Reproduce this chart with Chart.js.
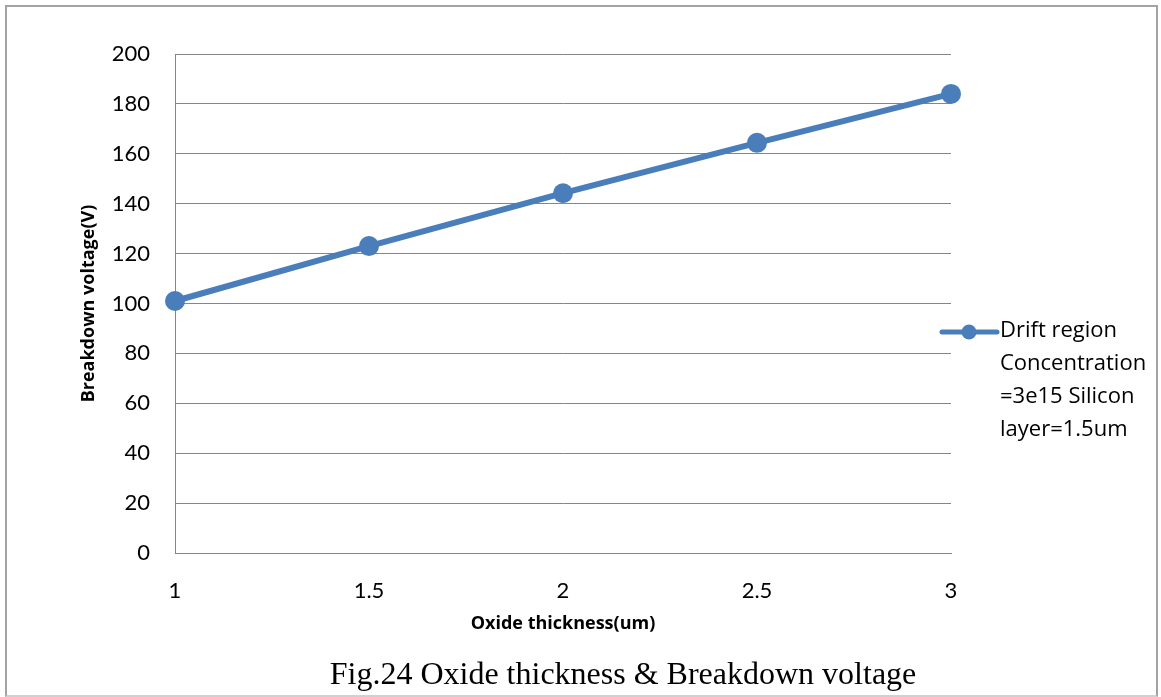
<!DOCTYPE html>
<html>
<head>
<meta charset="utf-8">
<script src="https://cdn.jsdelivr.net/npm/chart.js@4.4.1/dist/chart.umd.min.js"></script>
<style>
    html, body { margin: 0; padding: 0; background: #fff; }
    #wrap { position: relative; width: 1161px; height: 697px; overflow: hidden; }
    #frame {
        position: absolute; left: 5px; top: 5px; width: 1149px; height: 688px;
        border: 2px solid #a3a3a3; border-bottom-color: #d0d0d0;
    }
    #chart { position: absolute; left: 0; top: 0; }
    #caption {
        position: absolute; left: 0; width: 1246px; top: 655px;
        text-align: center; font-family: "Liberation Serif", "Times New Roman", serif;
        font-size: 32px; color: #000; line-height: 36px;
    }
</style>
</head>
<body>
<div id="wrap">
    <div id="frame"></div>
    <canvas id="chart" width="1161" height="697"></canvas>
    <div id="caption">Fig.24 Oxide thickness &amp; Breakdown voltage</div>
</div>
<script>
const thickness = [1, 1.5, 2, 2.5, 3];
const breakdown = [101, 123, 144.2, 164.4, 184];
const legendLines = ['Drift region', 'Concentration', '=3e15 Silicon', 'layer=1.5um'];
const xTitle = 'Oxide thickness(um)';
const yTitle = 'Breakdown voltage(V)';

const blue = '#4a7ebb';
const gridGray = '#868686';
const tickFont = { family: 'Lato, "Open Sans", sans-serif', size: 22 };
const legendFont = '22px "Open Sans", sans-serif';
const titleFont = { family: '"Open Sans", sans-serif', size: 18, weight: 'bold' };

// legend with wrapped text, drawn beside the plot
const sideLegend = {
    id: 'sideLegend',
    afterDraw(chart) {
        const { ctx, chartArea } = chart;
        const x0 = chartArea.right - 9;
        const y0 = 332;
        ctx.save();
        ctx.strokeStyle = blue;
        ctx.lineWidth = 5;
        ctx.lineCap = 'round';
        ctx.beginPath();
        ctx.moveTo(x0, y0);
        ctx.lineTo(x0 + 55, y0);
        ctx.stroke();
        ctx.fillStyle = blue;
        ctx.beginPath();
        ctx.arc(x0 + 27, y0, 7.5, 0, Math.PI * 2);
        ctx.fill();
        ctx.fillStyle = '#000';
        ctx.font = legendFont;
        ctx.textBaseline = 'middle';
        ctx.textAlign = 'left';
        legendLines.forEach((line, i) => {
            ctx.fillText(line, x0 + 58, y0 - 1 + i * 33);
        });
        ctx.restore();
    }
};

new Chart(document.getElementById('chart'), {
    type: 'line',
    data: {
        datasets: [{
            label: legendLines.join(' '),
            data: thickness.map((t, i) => ({ x: t, y: breakdown[i] })),
            borderColor: blue,
            backgroundColor: blue,
            borderWidth: 6,
            pointRadius: 10,
            pointHoverRadius: 10,
            pointBackgroundColor: blue,
            pointBorderWidth: 0,
            tension: 0,
            clip: false
        }]
    },
    options: {
        responsive: false,
        animation: false,
        layout: { padding: { top: 54, right: 210, left: 0, bottom: 0 } },
        plugins: {
            legend: { display: false },
            tooltip: { enabled: false }
        },
        scales: {
            x: {
                type: 'linear',
                min: 1,
                max: 3,
                afterFit(scale) { scale.height = 144; },
                ticks: {
                    stepSize: 0.5, color: '#000', font: tickFont, padding: 17, maxRotation: 0,
                    callback: (v) => String(v)
                },
                grid: { display: false },
                border: { display: true, color: gridGray, width: 1 },
                title: {
                    display: true,
                    text: xTitle,
                    color: '#000',
                    font: titleFont,
                    padding: { top: 0, bottom: 62 }
                }
            },
            y: {
                min: 0,
                max: 200,
                afterFit(scale) { scale.width = 175; },
                ticks: { stepSize: 20, color: '#000', font: tickFont, padding: 25 },
                grid: { color: gridGray, lineWidth: 1, drawTicks: false },
                border: { display: true, color: gridGray, width: 1 },
                title: {
                    display: true,
                    text: yTitle,
                    color: '#000',
                    font: titleFont,
                    padding: { top: 78, bottom: 0 }
                }
            }
        }
    },
    plugins: [sideLegend]
});
</script>
</body>
</html>
